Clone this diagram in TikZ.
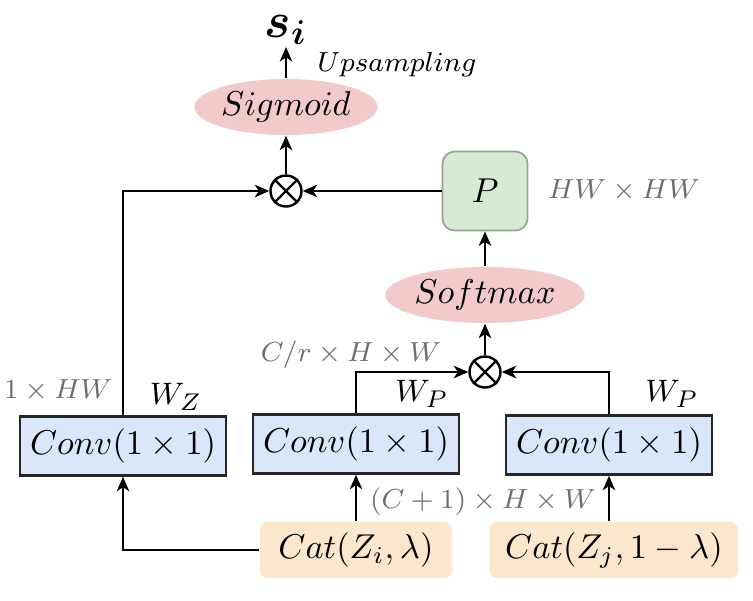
\documentclass[tikz,border=0pt]{standalone}
\usepackage{amsmath,bm}
\usetikzlibrary{arrows.meta,shapes.geometric}
\definecolor{convfill}{HTML}{DAE6FA}
\definecolor{catfill}{HTML}{FCE6CE}
\definecolor{ellfill}{HTML}{F2CACC}
\definecolor{pfill}{HTML}{D8EAD6}
\definecolor{pdraw}{HTML}{8FA88D}
\definecolor{graytxt}{HTML}{6E6E6E}
\tikzset{
  conv/.style={draw=black!85, fill=convfill, line width=0.7pt, minimum width=206*0.29pt, minimum height=59*0.29pt, inner sep=0pt, font=\fontsize{10.3}{12}\selectfont},
  cat/.style={fill=catfill, rounded corners=2pt, minimum width=192*0.29pt, minimum height=56*0.29pt, inner sep=0pt, font=\fontsize{10.3}{12}\selectfont},
  ell/.style={ellipse, fill=ellfill, minimum width=175*0.29pt, minimum height=56*0.29pt, inner sep=0pt, font=\fontsize{9.8}{11}\selectfont},
  opnode/.style={circle, draw, line width=0.7pt, minimum size=31*0.29pt, inner sep=0pt},
  glab/.style={text=graytxt, font=\fontsize{8.5}{10}\selectfont},
  arr/.style={line width=0.7pt, -{Stealth[length=4.2pt,width=3.6pt,inset=1.2pt]}},
  ln/.style={line width=0.7pt}
}
\begin{document}
\begin{tikzpicture}[x=0.29pt,y=-0.29pt]
\useasboundingbox (0,0) rectangle (753,600);
% nodes
\node[conv] (cL) at (123,446) {$Conv(1\times 1)$};
\node[conv] (cM) at (356,444) {$Conv(1\times 1)$};
\node[conv] (cR) at (609,445) {$Conv(1\times 1)$};
\node[cat] (catI) at (356,550) {$Cat(Z_i,\lambda)$};
\node[cat, minimum width=248*0.29pt] (catJ) at (614,550) {$Cat(Z_j,1-\lambda)$};
\node[ell] (soft) at (485,295) {$Softmax$};
\node[ell] (sig) at (286,107) {$Sigmoid$};
\node[draw=pdraw, fill=pfill, rounded corners=3.5pt, minimum width=85*0.29pt, minimum height=79*0.29pt, inner sep=0pt, line width=0.5pt, font=\fontsize{10.3}{12}\selectfont] (P) at (485,191) {$P$};
\node[opnode] (ot1) at (286,191) {};
\node[opnode] (ot2) at (485,372) {};
\draw[ln] (ot1.north west) -- (ot1.south east) (ot1.north east) -- (ot1.south west);
\draw[ln] (ot2.north west) -- (ot2.south east) (ot2.north east) -- (ot2.south west);
\node[inner sep=0pt] (si) at (286,30) {\Large$\bm{s}_{\bm{i}}$};
\coordinate (siend) at (286,47);
% labels
\node[font=\fontsize{8.1}{10}\selectfont] (ups) at (397,65) {$Upsampling$};
\node[glab] (lhw) at (624,190) {$HW\times HW$};
\node[glab] (l1hw) at (58,390) {$1\times HW$};
\node[font=\fontsize{9.3}{10}\selectfont] (wz) at (176,397) {$W_Z$};
\node[font=\fontsize{9.3}{10}\selectfont] (wp1) at (422,394) {$W_P$};
\node[font=\fontsize{9.3}{10}\selectfont] (wp2) at (672,394) {$W_P$};
\node[glab] (lcr) at (351,355) {$C/r\times H\times W$};
\node[glab] (lc1) at (483,502) {$(C+1)\times H\times W$};
% connectors
\draw[arr] (cL.north) |- (ot1.west);
\draw[arr] (P.west) -- (ot1.east);
\draw[arr] (ot1.north) -- (sig.south);
\draw[arr] (sig.north) -- (siend);
\draw[arr] (soft.north) -- (P.south);
\draw[arr] (ot2.north) -- (soft.south);
\draw[arr] (cM.north) |- (ot2.west);
\draw[arr] (cR.north) |- (ot2.east);
\draw[arr] (catI.north) -- (cM.south);
\draw[arr] (catI.west) -| (cL.south);
\draw[arr] (cR.south |- catJ.north) -- (cR.south);
\end{tikzpicture}
\end{document}
